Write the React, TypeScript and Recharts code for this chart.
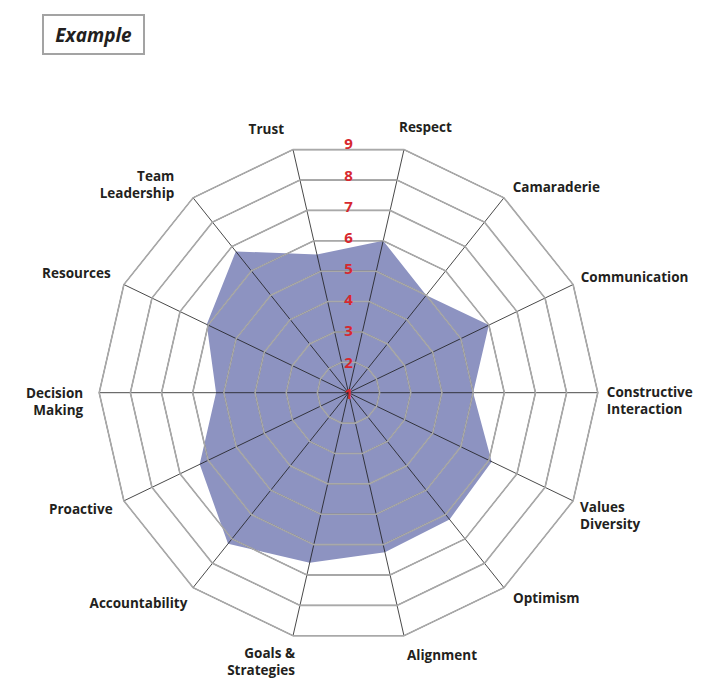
import React from "react";
import {
  RadarChart,
  Radar,
  PolarGrid,
  PolarAngleAxis,
  PolarRadiusAxis,
} from "recharts";

const categories = [
  "Trust",
  "Respect",
  "Camaraderie",
  "Communication",
  "Constructive Interaction",
  "Values Diversity",
  "Optimism",
  "Alignment",
  "Goals & Strategies",
  "Accountability",
  "Proactive",
  "Decision Making",
  "Resources",
  "Team Leadership",
];

const scores = [5.55, 6, 5, 6, 5, 6.1, 6.2, 6.25, 6.6, 7.2, 6.3, 5.25, 6.05, 6.8];

const radiusTicks = [1, 2, 3, 4, 5, 6, 7, 8, 9];

const data = categories.map((name, i) => ({ name, value: scores[i] }));

// chart geometry
const W = 708;
const H = 693;
const CX = 348.5;
const CY = 392.7;
const R = 249.3;
const START = 90 + 180 / categories.length;

// how each label is broken and nudged from its default spot
const labelLines: Record<string, string[]> = {
  "Constructive Interaction": ["Constructive", "Interaction"],
  "Values Diversity": ["Values", "Diversity"],
  "Goals & Strategies": ["Goals &", "Strategies"],
  "Decision Making": ["Decision", "Making"],
  "Team Leadership": ["Team", "Leadership"],
};
const nudge: Record<string, [number, number]> = {
  Trust: [-5, -3],
  Respect: [-9, -5],
  Camaraderie: [-2.5, 3],
  Communication: [-8.6, 0],
  "Constructive Interaction": [-9, 7.3],
  "Values Diversity": [-9.3, 6.6],
  Optimism: [-2.2, -3.4],
  Alignment: [-1, 1.7],
  "Goals & Strategies": [6, 8.7],
  Accountability: [5.5, 1],
  Proactive: [5, 0],
  "Decision Making": [2, 9],
  Resources: [3, -3.4],
  "Team Leadership": [-7.5, 0.3],
};

const FONT = "'Open Sans', 'Noto Sans', sans-serif";

const AngleTick = (props: any) => {
  const { payload } = props;
  const name: string = payload.value;
  const rad = (payload.coordinate * Math.PI) / 180;
  const c = Math.cos(rad);
  const s = Math.sin(rad);
  const [nx, ny] = nudge[name] || [0, 0];
  const x = CX + (R + 18) * c + nx;
  const y = CY - (R + 18) * s + ny;
  const anchor = c > 0.05 ? "start" : c < -0.05 ? "end" : "middle";
  const lines = labelLines[name] || [name];
  const lh = 17;
  const top = y - ((lines.length - 1) * lh) / 2;
  return (
    <text
      textAnchor={anchor}
      fontFamily={FONT}
      fontWeight={700}
      fontSize={13.5}
      fill="#231f20"
    >
      {lines.map((l, i) => (
        <tspan key={i} x={x} y={top + i * lh} dominantBaseline="central">
          {l}
        </tspan>
      ))}
    </text>
  );
};

const RadiusTick = (props: any) => {
  const { x, y, payload } = props;
  return (
    <text
      x={x}
      y={y}
      textAnchor="middle"
      dominantBaseline="central"
      fontFamily={FONT}
      fontWeight={700}
      fontSize={15}
      fill="#d7282f"
    >
      {payload.value}
    </text>
  );
};

const App = () => {
  return (
    <div
      style={{
        position: "absolute",
        left: 0,
        top: 0,
        width: W,
        height: H,
        background: "#fff",
      }}
    >
      <div
        style={{
          position: "absolute",
          left: 42,
          top: 14,
          width: 99,
          height: 37,
          border: "2px solid #a3a3a3",
          display: "flex",
          alignItems: "center",
          justifyContent: "center",
          fontFamily: FONT,
          fontWeight: 700,
          fontStyle: "italic",
          fontSize: 19,
          color: "#231f20",
        }}
      >
        Example
      </div>
      <div style={{ position: "absolute", left: 0, top: 0 }}>
        <RadarChart
          width={W}
          height={H}
          data={data}
          cx={CX}
          cy={CY}
          outerRadius={R}
          startAngle={START}
          endAngle={START - 360}
          margin={{ top: 0, right: 0, bottom: 0, left: 0 }}
        >
          <Radar
            dataKey="value"
            fill="#8d93c1"
            fillOpacity={1}
            stroke="none"
            isAnimationActive={false}
          />
          <PolarGrid
            gridType="polygon"
            stroke="#1a1a1a"
            strokeWidth={0.8}
            zIndex={150}
          />
          <PolarGrid
            gridType="polygon"
            radialLines={false}
            stroke="#a9a9a9"
            strokeWidth={1.6}
            zIndex={160}
          />
          <PolarAngleAxis
            dataKey="name"
            axisLine={false}
            tickLine={false}
            tick={<AngleTick />}
          />
          <PolarRadiusAxis
            angle={90}
            domain={[1, 9]}
            ticks={radiusTicks as any}
            tickCount={9}
            axisLine={false}
            tickLine={false}
            tick={<RadiusTick />}
          />
        </RadarChart>
      </div>
    </div>
  );
};

export default App;
